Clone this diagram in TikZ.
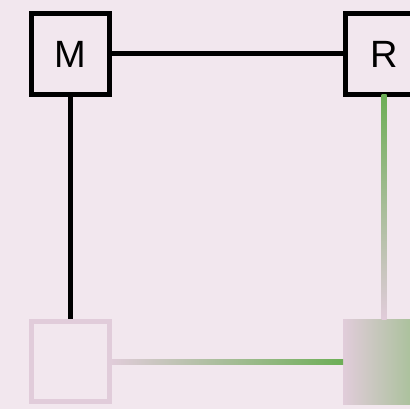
\documentclass[tikz,border=0pt]{standalone}
\usepackage{fontspec}
\setmainfont{Liberation Sans}
\usetikzlibrary{positioning,calc}
\definecolor{bgpink}{HTML}{F2E7EE}
\definecolor{softpink}{HTML}{E1CCDA}
\definecolor{leafgreen}{HTML}{6DAE56}
\definecolor{sagegreen}{HTML}{A0BF90}

\begin{document}
\begin{tikzpicture}[
  x=1pt,y=-1pt,
  font=\fontsize{38}{40}\selectfont,
  box/.style={draw,line width=5pt,minimum width=78pt,minimum height=81pt,inner sep=0pt},
  ghost/.style={draw=softpink,line width=5pt,minimum width=78pt,minimum height=80pt,inner sep=0pt},
  filled/.style={minimum width=82pt,minimum height=85pt,inner sep=0pt,outer sep=0pt,
    left color=softpink,right color=sagegreen},
  every edge/.style={draw,line width=5pt}
]
\fill[bgpink] (0,0) rectangle (410,409);
\useasboundingbox (0,0) rectangle (410,409);

\node[box] (m) at (70,54) {M};
\node[box,right=231pt of m] (r) {R};
\node[ghost] (hole) at (70,361.7) {};
\node[filled] (slot) at (r.south |- hole) {};

% black links
\path (m) edge (r)
      (m) edge (hole);

% faded links
\shade[top color=leafgreen,bottom color=softpink]
  ($(r.south)+(-2.5,-2.5)$) rectangle ($(slot.north)+(2.5,0)$);
\shade[left color=softpink,right color=leafgreen]
  ($(hole.east)+(-2.5,-2.5)$) rectangle ($(slot.west)+(0,2.5)$);
\end{tikzpicture}
\end{document}
